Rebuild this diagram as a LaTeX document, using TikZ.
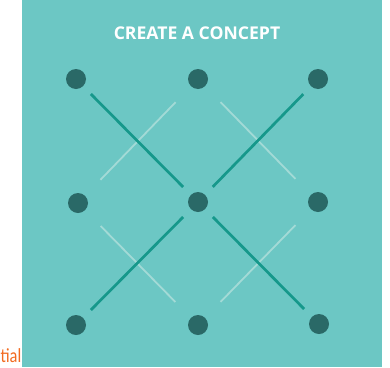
\documentclass[tikz,border=0pt]{standalone}
\usepackage{fontspec}
\newfontfamily\titlefont{Open Sans}
\newfontfamily\notefont{Carlito}
\definecolor{bgteal}{HTML}{6CC7C4}
\definecolor{dotcol}{HTML}{2A6967}
\definecolor{darkline}{HTML}{16988B}
\definecolor{lightline}{HTML}{A3DAD6}
\definecolor{noteorange}{HTML}{F26B21}
\tikzset{
  dot/.style={circle, fill=dotcol, minimum size=20pt, inner sep=0pt},
  darkconn/.style={draw=darkline, line width=2.7pt, shorten <=11pt, shorten >=11pt},
  lightconn/.style={draw=lightline, line width=1.8pt, shorten <=22pt, shorten >=22pt},
}
\begin{document}
\begin{tikzpicture}[x=1pt,y=-1pt]
\useasboundingbox (0,0) rectangle (390,367);
\node[anchor=base east, inner sep=0pt, text=noteorange, xscale=0.82, transform shape, font=\notefont\fontsize{20}{24}\selectfont] (note) at (21.5,362) {tial};
\fill[bgteal] (22,0) rectangle (382,367);
\node[anchor=base, inner sep=0pt, text=white, font=\titlefont\bfseries\fontsize{17.6}{20}\selectfont] (title) at (197,39) {CREATE A CONCEPT};
\node[dot] (tl) at (76,79) {};
\node[dot] (tm) at (198,79) {};
\node[dot] (tr) at (318,79) {};
\node[dot] (ml) at (78,203) {};
\node[dot] (c) at (198,202) {};
\node[dot] (mr) at (318,202) {};
\node[dot] (bl) at (76,325) {};
\node[dot] (bm) at (198,325) {};
\node[dot] (br) at (319,324) {};
\path[lightconn] (tm) -- (ml);
\path[lightconn] (tm) -- (mr);
\path[lightconn] (ml) -- (bm);
\path[lightconn] (mr) -- (bm);
\path[darkconn] (tl) -- (c);
\path[darkconn] (c) -- (tr);
\path[darkconn] (c) -- (bl);
\path[darkconn] (c) -- (br);
\end{tikzpicture}
\end{document}
